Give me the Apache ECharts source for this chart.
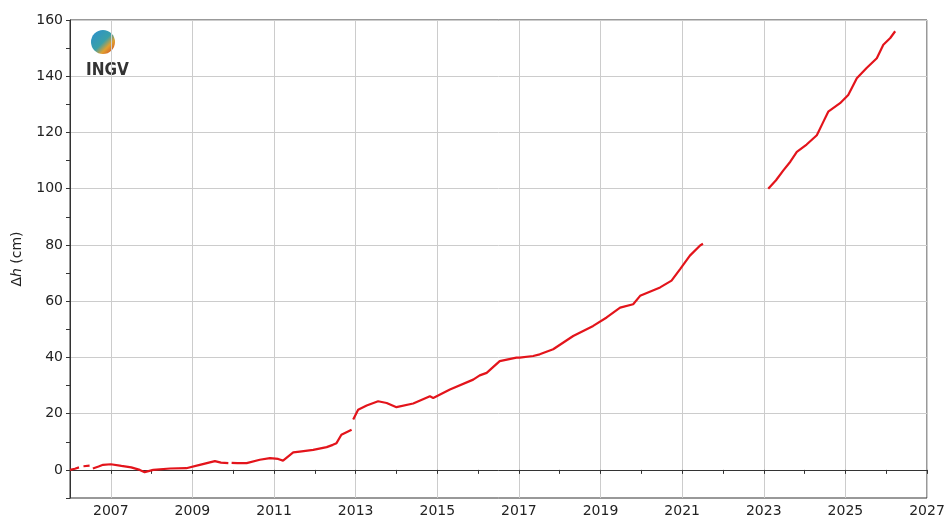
<!DOCTYPE html>
<html>
<head>
<meta charset="utf-8">
<script src="https://cdn.jsdelivr.net/npm/echarts@6/dist/echarts.min.js"></script>
<style>
  html, body { margin: 0; padding: 0; background: #fff; }
  #main { width: 949px; height: 521px; }
</style>
</head>
<body>
<div id="main"></div>
<script>
// Δh time series (cm); null = gap in the record
var years = [2006.0, 2006.12, 2006.22, 2006.27, 2006.33, 2006.48, 2006.52, 2006.56, 2006.7, 2006.81, 2007.0, 2007.26, 2007.5,
  2007.71, 2007.83, 2008.04, 2008.45, 2008.85, 2009.18, 2009.55, 2009.7, 2009.88, 2009.92, 2009.96, 2010.1, 2010.33, 2010.65,
  2010.9, 2011.1, 2011.22, 2011.47, 2011.63, 2011.96, 2012.29, 2012.44, 2012.53, 2012.65, 2012.69, 2012.9, 2012.92,
  2012.94, 2013.06, 2013.27, 2013.55, 2013.76, 2014.0, 2014.41, 2014.82, 2014.9, 2015.31, 2015.88, 2016.04,
  2016.21, 2016.53, 2016.94, 2017.02, 2017.35, 2017.51, 2017.84, 2018.33, 2018.82, 2019.15, 2019.48, 2019.8,
  2019.97, 2020.46, 2020.74, 2020.95, 2021.19, 2021.44, 2021.51, 2022.3,
  2023.11, 2023.3, 2023.48, 2023.65, 2023.81, 2024.05, 2024.3, 2024.45, 2024.58, 2024.87, 2025.07, 2025.28, 2025.52, 2025.77, 2025.93, 2026.1, 2026.22];
var dh = [0.0, 0.4, 0.9, null, 1.3, 1.5, null, 0.5, 1.2, 1.8, 2.0, 1.4, 0.9,
  0.0, -0.8, 0.0, 0.5, 0.6, 1.8, 3.1, 2.6, 2.4, null, 2.5, 2.4, 2.4, 3.6,
  4.2, 3.9, 3.3, 6.2, 6.5, 7.1, 8.1, 8.9, 9.5, 12.5, 13.1, 14.3, null,
  17.9, 21.4, 22.9, 24.4, 23.8, 22.3, 23.6, 26.2, 25.6, 28.6, 32.1, 33.6,
  34.5, 38.7, 39.9, 39.9, 40.5, 41.1, 42.9, 47.6, 51.2, 54.2, 57.7, 58.9,
  61.9, 64.9, 67.3, 71.4, 76.2, 79.8, 80.4, null,
  100.0, 103.0, 106.5, 109.6, 113.1, 115.7, 119.0, 123.5, 127.4, 130.4, 133.3, 139.3, 142.9, 146.4, 151.2, 153.6, 156.0];

var xMin = 2006, xMax = 2027, xStep = 1;
var yMin = -10, yMax = 160, yStep = 10;

var seriesData = years.map(function (y, i) { return [y, dh[i]]; });

var chart = echarts.init(document.getElementById('main'));
var font = 'DejaVu Sans';
chart.setOption({
  backgroundColor: '#ffffff',
  animation: false,
  grid: { left: 70, right: 22, top: 20, bottom: 23, show: true, borderColor: '#333', borderWidth: 1 },
  xAxis: {
    type: 'value', min: xMin, max: xMax, interval: xStep,
    axisLine: { show: true, lineStyle: { color: '#333' } },
    axisTick: { show: true, length: 4, lineStyle: { color: '#333' } },
    axisLabel: {
      color: '#222', fontFamily: font, fontSize: 14, margin: 6,
      formatter: function (v) { return (v % 2 === 1) ? String(v) : ''; }
    },
    splitLine: { show: true, lineStyle: { color: ['rgba(0,0,0,0)', '#cccccc'], width: 1 } }
  },
  yAxis: {
    type: 'value', min: yMin, max: yMax, interval: yStep,
    name: '{d|Δ}{h|h}{d| (cm)}',
    nameLocation: 'middle', nameRotate: 90, nameGap: 46,
    nameTextStyle: {
      rich: {
        d: { fontFamily: font, fontSize: 14, color: '#222' },
        h: { fontFamily: font, fontSize: 14, color: '#222', fontStyle: 'italic' }
      }
    },
    axisLine: { show: true, lineStyle: { color: '#333' } },
    axisTick: { show: true, length: 4, lineStyle: { color: '#333' } },
    axisLabel: {
      color: '#222', fontFamily: font, fontSize: 14, margin: 7,
      formatter: function (v) { return (v % 20 === 0) ? String(v) : ''; }
    },
    splitLine: { show: true, lineStyle: { color: ['rgba(0,0,0,0)', '#cccccc'], width: 1 } }
  },
  graphic: [
    {
      type: 'circle', left: 91, top: 30,
      shape: { r: 12 },
      style: {
        fill: new echarts.graphic.LinearGradient(0, 0, 1, 1, [
          { offset: 0, color: '#2a8fd0' },
          { offset: 0.5, color: '#3aa0a8' },
          { offset: 0.7, color: '#e0a030' },
          { offset: 1, color: '#d03a20' }
        ])
      }
    },
    {
      type: 'text', left: 86, top: 62,
      style: { text: 'INGV', fontFamily: 'Liberation Sans Narrow, DejaVu Sans Condensed, sans-serif', fontWeight: 'bold', fontSize: 17, fill: '#333' }
    }
  ],
  series: [{
    type: 'line',
    data: seriesData,
    showSymbol: false,
    connectNulls: false,
    lineStyle: { color: '#e3141b', width: 2.2 },
    z: 3
  }]
});
</script>
</body>
</html>
